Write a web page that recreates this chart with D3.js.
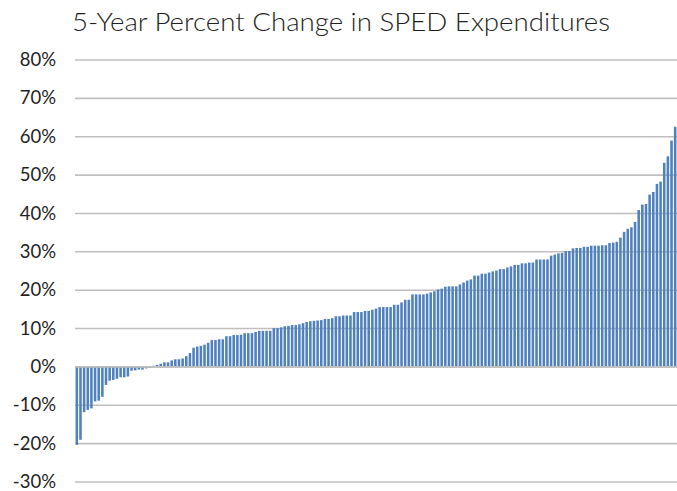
<!DOCTYPE html>
<html>
<head>
<meta charset="utf-8">
<script src="https://cdn.jsdelivr.net/npm/d3@7"></script>
<style>
	body { margin: 0; background: #fff; }
	text { font-family: "Lato", "Open Sans", sans-serif; fill: #1f1f1f; }
</style>
</head>
<body>
<script>

// chart title
var titleText = "5-Year Percent Change in SPED Expenditures";

// percent change per district, sorted low to high
var pctChange = [
	-20.3, -19.0, -11.8, -11.2, -10.8, -9.0, -8.8, -7.8, -4.7, -3.6, -3.4, -3.1,
	-2.7, -2.7, -2.5, -1.0, -0.9, -0.7, -0.7, -0.4, -0.2, 0.3, 0.5, 0.8, 1.2,
	1.2, 1.7, 2.0, 2.0, 2.2, 2.8, 3.6, 5.0,
	5.3, 5.5, 5.8, 6.3, 7.0, 7.0, 7.2, 7.2, 8.0, 8.0, 8.3, 8.3, 8.4, 8.8, 8.8,
	8.8, 9.1, 9.4, 9.4, 9.4, 9.4, 10.1, 10.1, 10.3, 10.6, 10.7, 10.9, 10.9,
	11.1, 11.4, 11.7,
	11.9, 12.0, 12.1, 12.2, 12.5, 12.5, 12.7, 13.2, 13.2, 13.4, 13.4, 13.4,
	14.3, 14.3, 14.3, 14.6, 14.6, 14.9, 15.2, 15.6, 15.6, 15.6, 15.6, 16.2,
	16.2, 16.8, 17.5, 17.5, 18.9, 18.9, 18.9, 18.9,
	19.1, 19.4, 19.7, 20.2, 20.4, 20.9, 21.0, 21.0, 21.0, 21.5, 22.0, 22.5,
	22.8, 23.8, 23.8, 24.3, 24.3, 24.6, 24.9, 25.1, 25.5, 25.5, 25.9, 26.2,
	26.6, 26.6, 27.0, 27.0, 27.2, 27.2, 28.0, 28.0, 28.0, 28.0,
	29.0, 29.3, 29.6, 29.7, 30.2, 30.2, 30.9, 31.0, 31.0, 31.3, 31.3, 31.6,
	31.6, 31.6, 31.7, 31.7, 32.3, 32.4, 32.6, 33.7, 35.2, 36.0, 36.4, 37.8,
	40.9, 42.3, 42.5, 44.9, 45.6, 47.7, 48.3, 53.2, 54.9, 59.0, 62.6
];

// one category per district (no names on the axis)
var districts = pctChange.map(function(d, i) { return "D" + (i + 1); });

// y axis ticks, in percent
var yTicks = [-30, -20, -10, 0, 10, 20, 30, 40, 50, 60, 70, 80];

var width = 677,
	height = 491;

var svg = d3.select("body")
	.append("svg")
	.attr("width", width)
	.attr("height", height);

// scales
var xScale = d3.scaleBand()
	.domain(districts)
	.range([75, 677])
	.paddingInner(0.3)
	.paddingOuter(0.15);

var yScale = d3.scaleLinear()
	.domain([-30, 80])
	.range([482, 60]);

// title
svg.append("text")
	.attr("x", 341)
	.attr("y", 31)
	.attr("text-anchor", "middle")
	.attr("font-size", "25px")
	.attr("font-weight", 300)
	.attr("textLength", 538)
	.attr("lengthAdjust", "spacingAndGlyphs")
	.text(titleText);

// gridlines
svg.append("g")
	.attr("class", "grid")
	.selectAll("line")
	.data(yTicks)
	.enter()
	.append("line")
	.attr("x1", 75)
	.attr("x2", 677)
	.attr("y1", function(d) { return yScale(d); })
	.attr("y2", function(d) { return yScale(d); })
	.attr("stroke", "#bfbfbf")
	.attr("stroke-width", 1.6);

// y axis labels
var yAxis = d3.axisLeft(yScale)
	.tickValues(yTicks)
	.tickSize(0)
	.tickPadding(0)
	.tickFormat(function(d) { return d + "%"; });

svg.append("g")
	.attr("class", "y axis")
	.attr("transform", "translate(56,0)")
	.call(yAxis)
	.call(function(g) { g.select(".domain").remove(); })
	.selectAll("text")
	.attr("dy", "0.3em")
	.attr("font-size", "18.5px")
	.attr("font-family", "Lato, sans-serif")
	.attr("fill", "#1f1f1f");

// bars
svg.append("g")
	.selectAll("rect")
	.data(pctChange)
	.enter()
	.append("rect")
	.attr("x", function(d, i) { return xScale(districts[i]); })
	.attr("width", xScale.bandwidth())
	.attr("y", function(d) { return yScale(Math.max(0, d)); })
	.attr("height", function(d) { return Math.abs(yScale(d) - yScale(0)); })
	.attr("fill", "#4f81bd");

// zero line on top
svg.append("line")
	.attr("x1", 75)
	.attr("x2", 677)
	.attr("y1", yScale(0))
	.attr("y2", yScale(0))
	.attr("stroke", "#bfbfbf")
	.attr("stroke-width", 1.6);

</script>
</body>
</html>
